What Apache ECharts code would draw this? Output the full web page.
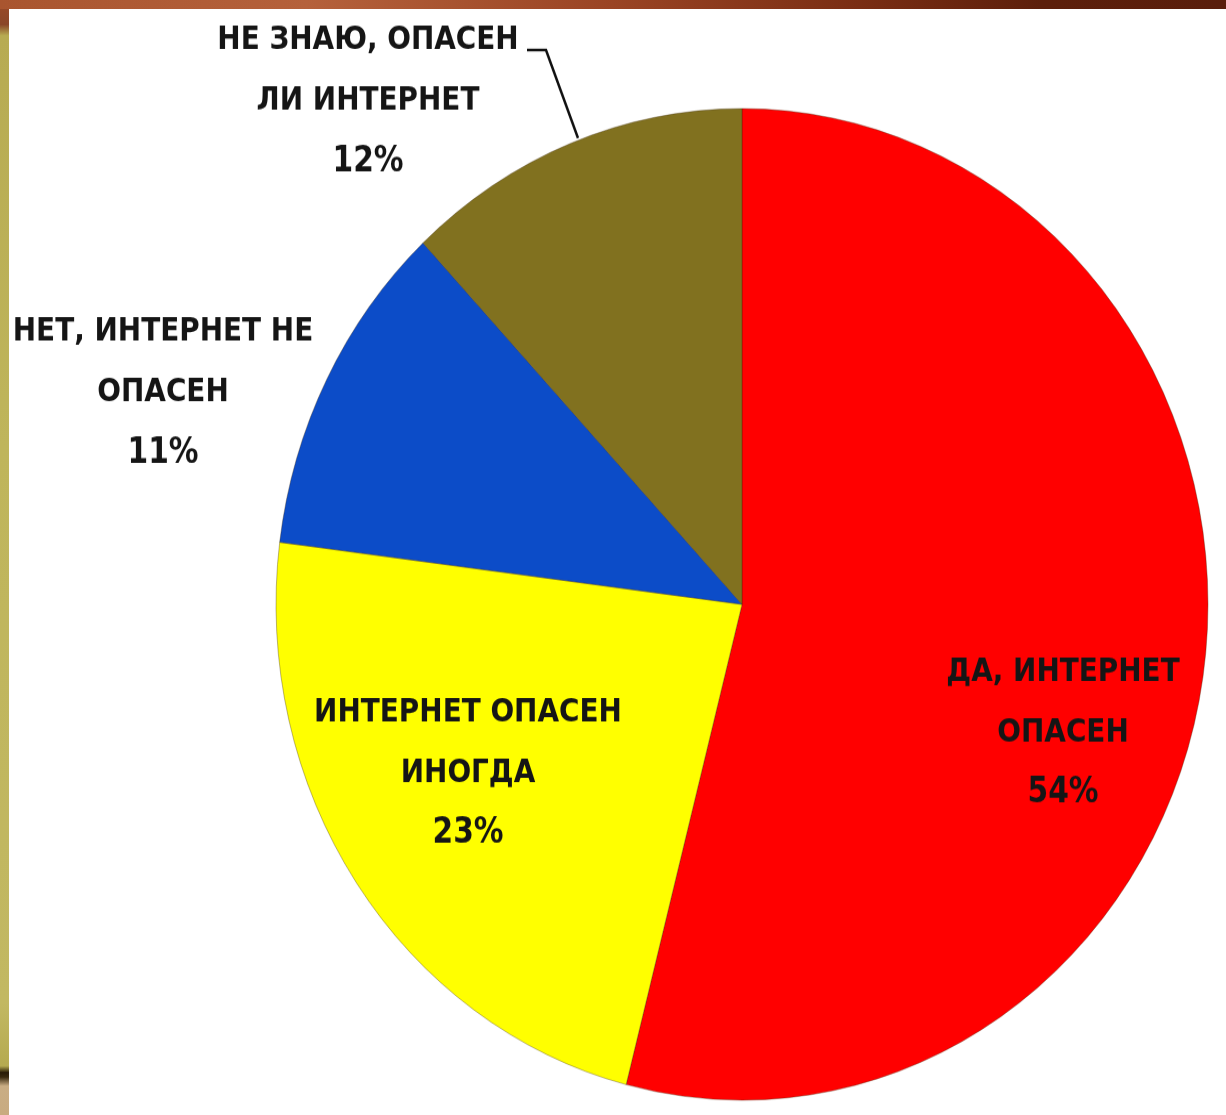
<!DOCTYPE html>
<html>
<head>
<meta charset="utf-8">
<script src="https://cdn.jsdelivr.net/npm/echarts@6/dist/echarts.min.js"></script>
<style>
  html, body { margin: 0; padding: 0; background: #ffffff; width: 1226px; height: 1115px; overflow: hidden; position: relative; }
  #c { position: absolute; left: 0; top: 0; width: 1226px; height: 1048px; transform: scaleY(1.064); transform-origin: 0 0; }
  #topbar { position: absolute; left: 0; top: 0; width: 1226px; height: 9px; z-index: 5;
    background: linear-gradient(to right, #a9552f 0%, #b5613b 25%, #9a4424 50%, #7a2e14 70%, #5c1f0b 85%, #5a1e0c 100%); }
  #leftbar { position: absolute; left: 0; top: 0; width: 9px; height: 1115px; z-index: 4;
    background: linear-gradient(to bottom, #9c4a28 0%, #8a4628 2.2%, #b7ab52 3.2%, #bfb55b 40%, #c2b862 90%, #b5aa50 95.6%, #2a1c08 96.2%, #3a2a10 96.6%, #c9ad84 97.4%, #c8ab80 100%); }
</style>
</head>
<body>
<div id="topbar"></div>
<div id="leftbar"></div>
<div id="c"></div>
<script>
// ---- data ----
var categories = [
  'ДА, ИНТЕРНЕТ\nОПАСЕН',
  'ИНТЕРНЕТ ОПАСЕН\nИНОГДА',
  'НЕТ, ИНТЕРНЕТ НЕ\nОПАСЕН',
  'НЕ ЗНАЮ, ОПАСЕН\nЛИ ИНТЕРНЕТ'
];
var values = [54, 23, 11, 12];
var colors = ['#ff0000', '#ffff00', '#0c4cc8', '#81711f'];

// ---- layout (reference pixel coords) ----
var SY = 1.064;
var labelCenters = [[1063, 733], [468, 773], [163, 393], [368, 101]];
var leaderLine = [[578, 138], [546, 50], [527, 50]];

var chart = echarts.init(document.getElementById('c'), null, { renderer: 'canvas' });

var seriesData = categories.map(function (name, i) {
  var item = { name: name, value: values[i], itemStyle: { color: colors[i] } };
  if (i >= 2) {
    item.label = { position: 'outside' };
  }
  if (i === 3) {
    item.labelLine = { show: true, length: 20, length2: 20, lineStyle: { color: '#111', width: 2.5 } };
  }
  return item;
});

chart.setOption({
  backgroundColor: 'transparent',
  animation: false,
  series: [{
    type: 'pie',
    center: [742, 568],
    radius: [0, 466],
    startAngle: 90,
    clockwise: true,
    avoidLabelOverlap: false,
    itemStyle: { borderColor: 'rgba(60,40,10,0.35)', borderWidth: 1 },
    label: {
      show: true,
      position: 'inside',
      formatter: '{b}\n{p|{c}%}',
      fontFamily: "'DejaVu Sans Condensed', 'Liberation Sans Narrow', 'Open Sans', sans-serif",
      fontWeight: 'bold',
      fontSize: 31,
      lineHeight: 57,
      color: '#151515',
      align: 'center',
      rich: {
        p: {
          fontFamily: "'DejaVu Sans Condensed', 'Liberation Sans Narrow', 'Open Sans', sans-serif",
          fontWeight: 'bold',
          fontSize: 33,
          lineHeight: 57,
          color: '#151515'
        }
      }
    },
    labelLine: { show: false },
    labelLayout: function (p) {
      var c = labelCenters[p.dataIndex];
      var res = { x: c[0], y: c[1] / SY, align: 'center', verticalAlign: 'middle' };
      if (p.dataIndex === 3) {
        res.labelLinePoints = leaderLine.map(function (pt) { return [pt[0], pt[1] / SY]; });
      }
      return res;
    },
    data: seriesData
  }]
});
</script>
</body>
</html>
